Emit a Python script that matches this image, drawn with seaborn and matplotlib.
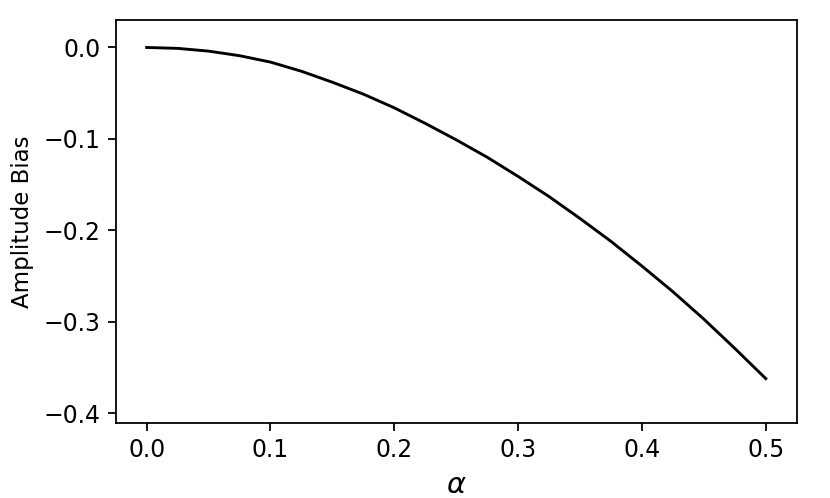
import pandas as pd
import matplotlib
matplotlib.use("Agg")
import matplotlib.pyplot as plt
import seaborn as sns

alpha = [0.0, 0.025, 0.05, 0.075, 0.1, 0.125, 0.15, 0.175, 0.2, 0.225, 0.25,
         0.275, 0.3, 0.325, 0.35, 0.375, 0.4, 0.425, 0.45, 0.475, 0.5]
bias = [0.0, -0.001, -0.004, -0.009, -0.016, -0.026, -0.038, -0.051, -0.066, -0.083, -0.101,
        -0.120, -0.141, -0.163, -0.187, -0.212, -0.239, -0.267, -0.297, -0.329, -0.362]

df = pd.DataFrame({"alpha": alpha, "bias": bias})

fig = plt.figure(figsize=(830 / 160, 498 / 160), dpi=160)
ax = fig.add_axes([0.1394, 0.1516, 0.8205, 0.8082])
sns.lineplot(data=df, x="alpha", y="bias", color="black", linewidth=1.3, ax=ax)
ax.set_ylim(-0.41, 0.03)
ax.set_yticks([0.0, -0.1, -0.2, -0.3, -0.4])
ax.set_xticks([0.0, 0.1, 0.2, 0.3, 0.4, 0.5])
ax.tick_params(labelsize=10.6)
ax.set_xlabel(r"$\alpha$", fontsize=13)
ax.set_ylabel("Amplitude Bias", fontsize=10.3)
fig.savefig("out.png", dpi=160)
